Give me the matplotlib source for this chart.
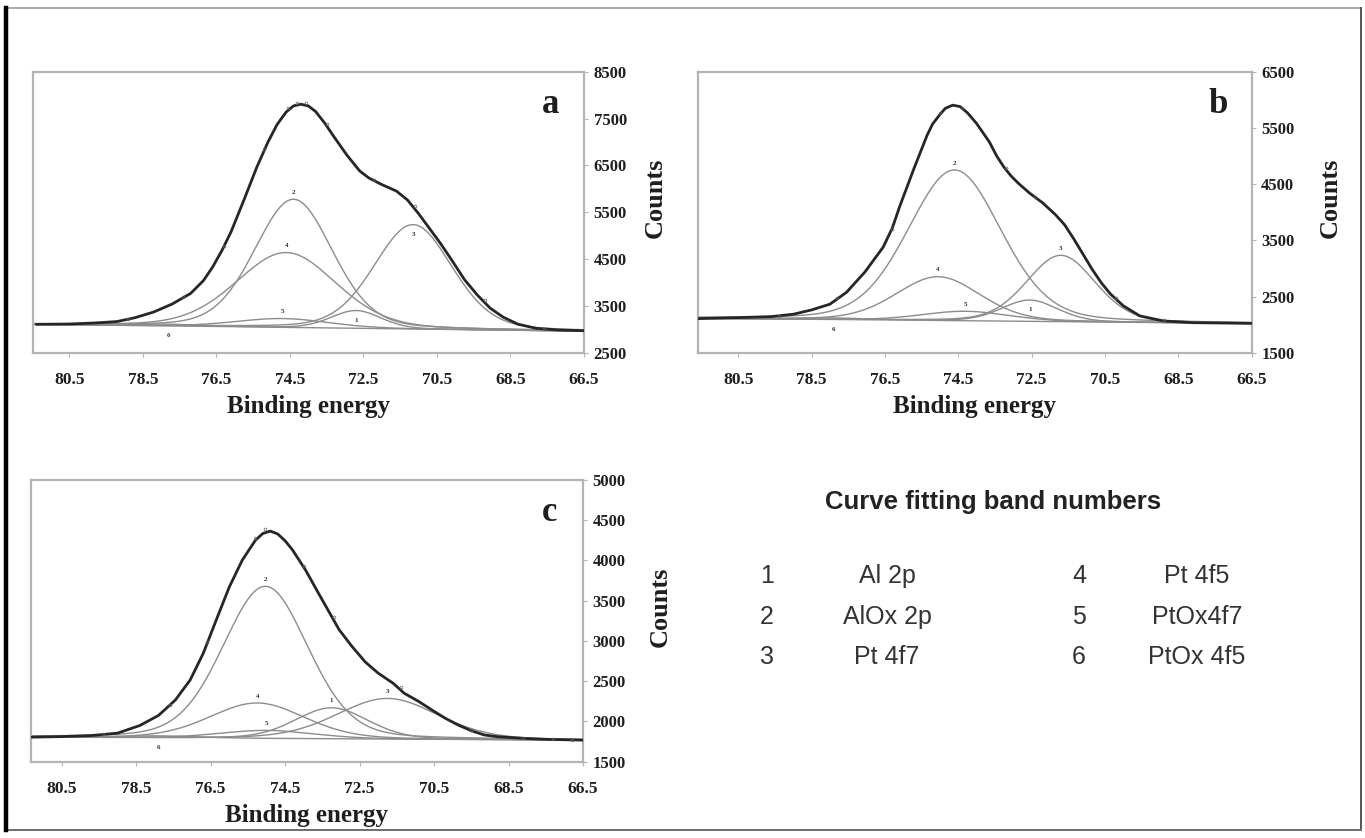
import numpy as np
import matplotlib
matplotlib.use("Agg")
import matplotlib.pyplot as plt
from matplotlib.lines import Line2D

# ---------------- data ----------------
band_numbers = ["1", "2", "3", "4", "5", "6"]
band_names = ["Al 2p", "AlOx 2p", "Pt 4f7", "Pt 4f5", "PtOx4f7", "PtOx 4f5"]

x_ticks = [80.5, 78.5, 76.5, 74.5, 72.5, 70.5, 68.5, 66.5]
x_tick_labels = ["80.5", "78.5", "76.5", "74.5", "72.5", "70.5", "68.5", "66.5"]

# panel a
a_energy = [81.4, 80.5, 79.8, 79.2, 78.7, 78.2, 77.7, 77.2, 76.85, 76.6, 76.35,
            76.1, 75.75, 75.4, 75.1, 74.85, 74.6, 74.4, 74.2, 74.0, 73.8, 73.55,
            73.3, 72.95, 72.6, 72.35, 72.0, 71.6, 71.3, 71.0, 70.7, 70.4, 70.1,
            69.75, 69.4, 69.05, 68.7, 68.3, 67.8, 67.2, 66.5]
a_counts = [3105, 3113, 3135, 3165, 3250, 3370, 3540, 3765, 4040, 4330, 4680,
            5080, 5760, 6460, 6990, 7370, 7640, 7770, 7805, 7770, 7650, 7400,
            7110, 6720, 6380, 6230, 6090, 5950, 5760, 5470, 5150, 4830, 4480,
            4060, 3730, 3450, 3260, 3110, 3020, 2985, 2970]
a_point_energy = [78.9, 77.4, 76.3, 75.2, 74.55, 74.3, 74.05, 73.5, 72.2, 71.1, 69.2, 67.6]
a_point_counts = [3215, 3680, 4770, 6850, 7730, 7840, 7830, 7380, 6190, 5640, 3630, 3005]
a_band_center = [72.7, 74.4, 71.15, 74.6, 74.7, 77.8]
a_band_height = [380, 2740, 2230, 1600, 190, 40]
a_band_fwhm = [1.6, 2.5, 2.5, 3.2, 3.0, 2.5]
a_baseline = [3105, 2960]          # counts at 81.5 eV and 66.5 eV
a_y_ticks = [2500, 3500, 4500, 5500, 6500, 7500, 8500]

# panel b
b_energy = [81.6, 80.5, 79.6, 79.0, 78.5, 78.0, 77.55, 77.05, 76.55, 76.3, 76.1,
            75.7, 75.35, 75.2, 75.0, 74.85, 74.65, 74.45, 74.25, 74.0, 73.65,
            73.45, 73.25, 73.05, 72.85, 72.55, 72.2, 71.85, 71.6, 71.35, 71.1,
            70.85, 70.6, 70.35, 70.0, 69.55, 68.9, 68.1, 66.5]
b_counts = [2111, 2129, 2147, 2189, 2266, 2368, 2578, 2937, 3380, 3720, 4100,
            4793, 5370, 5570, 5740, 5850, 5905, 5880, 5770, 5580, 5250,
            5000, 4800, 4640, 4510, 4340, 4170, 3960, 3780, 3530, 3260,
            2990, 2750, 2550, 2340, 2160, 2069, 2039, 2027]
b_point_energy = [79.4, 77.8, 76.3, 75.0, 74.4, 73.2, 72.4, 70.2, 68.9]
b_point_counts = [2160, 2470, 3700, 5770, 5850, 4780, 4280, 2470, 2080]
b_band_center = [72.55, 74.6, 71.7, 75.05, 74.3, 77.9]
b_band_height = [380, 2680, 1180, 780, 170, 30]
b_band_fwhm = [1.8, 3.0, 2.2, 2.7, 2.8, 2.5]
b_baseline = [2115, 2025]
b_y_ticks = [1500, 2500, 3500, 4500, 5500, 6500]

# panel c
c_energy = [81.3, 80.5, 79.7, 79.0, 78.4, 77.9, 77.45, 77.05, 76.7, 76.35, 76.0,
            75.65, 75.3, 75.1, 74.9, 74.7, 74.5, 74.3, 73.95, 73.6, 73.3, 73.05,
            72.7, 72.35, 72.0, 71.6, 71.3, 70.9, 70.55, 70.2, 69.85, 69.5,
            69.15, 68.8, 68.1, 67.5, 66.5]
c_counts = [1805, 1812, 1825, 1855, 1950, 2075, 2265, 2515, 2845, 3260, 3670,
            4005, 4250, 4335, 4365, 4330, 4245, 4130, 3880, 3590, 3345, 3140,
            2930, 2740, 2600, 2475, 2350, 2245, 2140, 2040, 1955, 1885,
            1832, 1811, 1790, 1778, 1768]
c_point_energy = [79.4, 77.6, 76.6, 75.3, 75.05, 74.0, 73.2, 71.4, 69.5, 68.1, 67.3, 66.8]
c_point_counts = [1840, 2200, 2990, 4280, 4390, 3930, 3300, 2430, 1900, 1800, 1785, 1775]
c_band_center = [73.25, 75.03, 71.75, 75.25, 75.0, 77.9]
c_band_height = [385, 1890, 505, 440, 100, 25]
c_band_fwhm = [2.3, 2.7, 3.2, 3.0, 3.0, 2.5]
c_baseline = [1805, 1768]
c_y_ticks = [1500, 2000, 2500, 3000, 3500, 4000, 4500, 5000]

# ---------------- style ----------------
W, H = 1365, 838
SERIF = ["Liberation Serif", "DejaVu Serif"]
SANS = ["Liberation Sans", "DejaVu Sans"]
ENV_COLOR = "#262626"
BAND_COLOR = "#8c8c8c"
SPINE_COLOR = "#b4b4b4"
TEXT_COLOR = "#1e1e1e"

fig = plt.figure(figsize=(W / 100, H / 100), dpi=100)
fig.patch.set_facecolor("white")


def px_rect(x0, y0, x1, y1):
    return [x0 / W, 1 - y1 / H, (x1 - x0) / W, (y1 - y0) / H]


def band(x, center, height, fwhm, eta=0.2):
    sigma = fwhm / 2.3548
    gauss = np.exp(-0.5 * ((x - center) / sigma) ** 2)
    lor = 1.0 / (1.0 + ((x - center) / (fwhm / 2)) ** 2)
    return height * ((1 - eta) * gauss + eta * lor)


def draw_panel(rect, xlim, ylim, yticks, energy, counts, pe, pc,
               centers, heights, fwhms, baseline, letter, below, counts_x):
    ax = fig.add_axes(px_rect(*rect))
    xs = np.linspace(66.3, 81.8, 700)
    base = baseline[1] + (baseline[0] - baseline[1]) * (xs - 66.5) / 15.0
    for i, (c, h, w) in enumerate(zip(centers, heights, fwhms)):
        ax.plot(xs, base + band(xs, c, h, w), color=BAND_COLOR, lw=1.0, zorder=2)
        bpk = baseline[1] + (baseline[0] - baseline[1]) * (c - 66.5) / 15.0
        if band_numbers[i] in below:
            anchor = bpk if band_numbers[i] == "6" else bpk + h
            ax.annotate(band_numbers[i], (c, anchor), xytext=(0, -7),
                        textcoords="offset points", ha="center", va="center",
                        fontsize=5, fontweight="bold", family=SERIF, color="#333333")
        else:
            ax.annotate(band_numbers[i], (c, bpk + h), xytext=(0, 5),
                        textcoords="offset points", ha="center", va="center",
                        fontsize=5, fontweight="bold", family=SERIF, color="#333333")
    ax.plot(energy, counts, color=ENV_COLOR, lw=2.0, zorder=4,
            solid_joinstyle="round", solid_capstyle="round")
    ax.plot(pe, pc, ls="none", marker="o", ms=2.0, mfc="none", mec="#666666",
            mew=0.5, zorder=5)
    ax.set_xlim(*xlim)
    ax.set_ylim(*ylim)
    ax.set_xticks(x_ticks)
    ax.set_xticklabels(x_tick_labels)
    ax.set_yticks(yticks)
    ax.set_yticklabels([str(v) for v in yticks])
    ax.yaxis.tick_right()
    ax.yaxis.set_label_position("right")
    for s in ax.spines.values():
        s.set_color(SPINE_COLOR)
        s.set_linewidth(1.6)
    ax.tick_params(axis="x", length=3, color=SPINE_COLOR, pad=11, labelsize=12.5,
                   labelcolor=TEXT_COLOR)
    ax.tick_params(axis="y", length=3, color=SPINE_COLOR, pad=4, labelsize=12,
                   labelcolor=TEXT_COLOR)
    for lab in ax.get_xticklabels() + ax.get_yticklabels():
        lab.set_fontfamily(SERIF)
        lab.set_fontweight("bold")
    ax.set_xlabel("Binding energy", fontsize=18, fontweight="bold",
                  family=SERIF, color=TEXT_COLOR)
    ax.xaxis.set_label_coords(0.5, -0.19)
    ax.xaxis.label.set_va("center")
    ax.set_ylabel("Counts", fontsize=19, fontweight="bold", family=SERIF,
                  color=TEXT_COLOR, rotation=90)
    ax.yaxis.set_label_coords(counts_x, 0.55)
    ax.yaxis.label.set_va("center")
    ax.text(0.94, 0.885, letter, transform=ax.transAxes, fontsize=25,
            fontweight="bold", family=SERIF, ha="center", va="center",
            color=TEXT_COLOR)
    return ax


draw_panel((32.5, 71.7, 584, 352.7), (81.5, 66.5), (2500, 8500), a_y_ticks,
           a_energy, a_counts, a_point_energy, a_point_counts,
           a_band_center, a_band_height, a_band_fwhm, a_baseline, "a",
           ("1", "3", "6"), 1.13)
draw_panel((698, 71.7, 1251.5, 353), (81.6, 66.5), (1500, 6500), b_y_ticks,
           b_energy, b_counts, b_point_energy, b_point_counts,
           b_band_center, b_band_height, b_band_fwhm, b_baseline, "b",
           ("1", "6"), 1.142)
draw_panel((30.8, 480, 583, 761.7), (81.33, 66.5), (1500, 5000), c_y_ticks,
           c_energy, c_counts, c_point_energy, c_point_counts,
           c_band_center, c_band_height, c_band_fwhm, c_baseline, "c",
           ("6",), 1.139)

# legend block
fig.text(993 / W, 1 - 502 / H, "Curve fitting band numbers", ha="center",
         va="center", fontsize=18.5, fontweight="bold", family=SANS, color="#222222")
row_y = [576, 617, 657]
for k in range(3):
    fig.text(767 / W, 1 - row_y[k] / H, band_numbers[k], ha="center", va="center",
             fontsize=18, family=SANS, color="#333333")
    fig.text(887 / W, 1 - row_y[k] / H, band_names[k], ha="center", va="center",
             fontsize=18, family=SANS, color="#333333")
    fig.text(1079 / W, 1 - row_y[k] / H, band_numbers[k + 3], ha="center",
             va="center", fontsize=18, family=SANS, color="#333333")
    fig.text(1197 / W, 1 - row_y[k] / H, band_names[k + 3], ha="center",
             va="center", fontsize=18, family=SANS, color="#333333")

# outer frame
def fig_line(x0, y0, x1, y1, **kw):
    fig.add_artist(Line2D([x0 / W, x1 / W], [1 - y0 / H, 1 - y1 / H],
                          transform=fig.transFigure, **kw))

fig_line(6, 8, 1361, 8, color="#9a9a9a", lw=1.2)
fig_line(1361, 8, 1361, 830, color="#555555", lw=1.4)
fig_line(6, 830, 1361, 830, color="#6e6e6e", lw=1.4)
fig_line(6, 8, 6, 830, color="#000000", lw=3.2)

fig.savefig("out.png", dpi=100, facecolor="white")
